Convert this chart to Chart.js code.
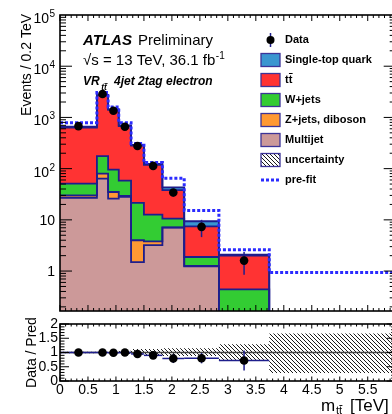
<!DOCTYPE html>
<html>
<head>
<meta charset="utf-8">
<script src="https://cdn.jsdelivr.net/npm/chart.js@4.4.0/dist/chart.umd.min.js"></script>
<style>
html, body { margin: 0; padding: 0; background: #fff; overflow: hidden; width: 392px; height: 414px; }
canvas { position: absolute; left: 0; top: 0; }
</style>
</head>
<body>
<canvas id="mainChart" width="400" height="414"></canvas>
<canvas id="ratioChart" width="400" height="414"></canvas>
<script>
// bin edges of m_tt [TeV]
const binEdges = [0, 0.66, 0.86, 1.05, 1.27, 1.5, 1.83, 2.22, 2.84, 3.74, 6.0];

// post-fit stack components (events per bin), bottom to top
const multijet     = [27, 64, 26, 28, 1.5, 3.2, 7.06, 1.24, 0.08, 0.01];
const zjetsDiboson = [3, 16, 9, 1.3, 2.5, 0.6, 0.05, 0.02, 0.01, 0.005];
const wjets        = [21, 96, 61, 29, 17.4, 8.9, 3.5, 0.62, 0.35, 0.03];
const ttbar        = [579, 2484, 1304, 617, 259, 106, 27.3, 5.6, 1.56, 0.05];
const singleTop    = [30, 90, 50, 25, 10, 5, 5, 1.9, 0.09, 0.01];
const prefit       = [790, 3050, 1600, 790, 310, 132, 65, 15.3, 2.62, 0.94];

// data
const dataVals = [677, 2870, 1350, 658, 276, 113, 34.2, 7.3, 1.6];
const dataErr  = [26, 54, 37, 26, 17, 11, 6, 2.7, 0.75];

// ratio panel
const ratioVals = [1.0, 1.0, 0.99, 1.0, 0.95, 0.9, 0.79, 0.8, 0.72];
const ratioErr  = [0.04, 0.02, 0.03, 0.04, 0.06, 0.09, 0.16, 0.18, 0.35];
const uncUp     = [0.03, 0.02, 0.03, 0.06, 0.12, 0.12, 0.15, 0.15, 0.29, 0.67];
const uncDown   = [0.03, 0.02, 0.03, 0.05, 0.08, 0.1, 0.12, 0.12, 0.29, 0.72];

// tick labels
const logTicks = [1, 10, 100, 1000, 10000, 100000];
const logTickLabels = [['1', ''], ['10', ''], ['10', '2'], ['10', '3'], ['10', '4'], ['10', '5']];
const ratioTicks = [0, 0.5, 1, 1.5, 2];
const ratioTickLabels = ['0', '0.5', '1', '1.5', '2'];
const xTicks = [0, 0.5, 1, 1.5, 2, 2.5, 3, 3.5, 4, 4.5, 5, 5.5];
const xTickLabels = ['0', '0.5', '1', '1.5', '2', '2.5', '3', '3.5', '4', '4.5', '5', '5.5'];

const FONT = "'Liberation Sans', Arial, Helvetica, sans-serif";
const OUTLINE = '#1e1e8c';
const colours = {
    singleTop: '#3a96d0',
    ttbar: '#ff3333',
    wjets: '#33cc33',
    zjets: '#ff9933',
    multijet: '#cc9999',
    prefit: '#2b2bff'
};

function stepPts(vals) {
    const pts = vals.map((v, i) => ({ x: binEdges[i], y: v }));
    pts.push({ x: binEdges[vals.length], y: vals[vals.length - 1] });
    return pts;
}
function centres(vals) {
    return vals.map((v, i) => ({ x: (binEdges[i] + binEdges[i + 1]) / 2, y: v }));
}
function makeHatch() {
    const c = document.createElement('canvas');
    c.width = 4; c.height = 4;
    const g = c.getContext('2d');
    g.strokeStyle = '#000';
    g.lineWidth = 0.9;
    g.beginPath();
    for (const k of [-4, 0, 4]) { g.moveTo(k - 1, -1); g.lineTo(k + 5, 5); }
    g.stroke();
    return g.createPattern(c, 'repeat');
}
const hatch = makeHatch();

// cumulative stack
const layers = [multijet, zjetsDiboson, wjets, ttbar, singleTop];
const layerColours = [colours.multijet, colours.zjets, colours.wjets, colours.ttbar, colours.singleTop];
const cumulative = [];
let running = multijet.map(() => 0);
layers.forEach(l => { running = running.map((r, i) => r + l[i]); cumulative.push(running.slice()); });

function line(ctx, x1, y1, x2, y2) {
    ctx.beginPath(); ctx.moveTo(x1, y1); ctx.lineTo(x2, y2); ctx.stroke();
}

function drawXTicks(chart, majLen, minLen) {
    const { ctx, chartArea: a, scales: { x } } = chart;
    for (let k = 0; k <= 60; k++) {
        const px = x.getPixelForValue(k / 10);
        const len = (k % 5 === 0) ? majLen : minLen;
        line(ctx, px, a.bottom, px, a.bottom - len);
        line(ctx, px, a.top, px, a.top + len);
    }
}

const mainFrame = {
    id: 'mainFrame',
    beforeDatasetDraw(chart, args) {
        if (args.index !== 0) return;
        const { ctx, scales: { x, y } } = chart;
        ctx.save();
        ctx.strokeStyle = OUTLINE;
        ctx.lineWidth = 1.5;
        dataVals.forEach((v, i) => {
            const px = x.getPixelForValue((binEdges[i] + binEdges[i + 1]) / 2);
            line(ctx, px, y.getPixelForValue(v + dataErr[i]), px, y.getPixelForValue(Math.max(v - dataErr[i], 0.01)));
        });
        ctx.restore();
    },
    afterDraw(chart) {
        const { ctx, chartArea: a, scales: { y } } = chart;
        ctx.save();
        ctx.strokeStyle = '#000';
        ctx.lineWidth = 1;
        drawXTicks(chart, 6, 3);
        for (let d = -1; d <= 4; d++) {
            for (let m = 1; m <= 9; m++) {
                const v = m * Math.pow(10, d);
                if (v < y.min || v > y.max) continue;
                const py = y.getPixelForValue(v);
                const len = m === 1 ? 12 : 6;
                line(ctx, a.left, py, a.left + len, py);
                line(ctx, a.right, py, a.right - len, py);
            }
        }
        ctx.lineWidth = 1.6;
        ctx.strokeRect(a.left, a.top, a.right - a.left, a.bottom - a.top);

        // y tick labels
        ctx.fillStyle = '#000';
        logTicks.forEach((v, i) => {
            const py = y.getPixelForValue(v);
            const [base, sup] = logTickLabels[i];
            if (!sup) {
                ctx.font = '14px ' + FONT;
                ctx.textAlign = 'right'; ctx.textBaseline = 'middle';
                ctx.fillText(base, 55, py + 1);
            } else {
                ctx.font = '14px ' + FONT;
                ctx.textAlign = 'right'; ctx.textBaseline = 'alphabetic';
                ctx.fillText(base, 49, py + 8);
                ctx.font = '10px ' + FONT;
                ctx.textAlign = 'left';
                ctx.fillText(sup, 49.5, py + 2);
            }
        });

        // y title
        ctx.save();
        ctx.translate(31, 14);
        ctx.rotate(-Math.PI / 2);
        ctx.font = '14px ' + FONT;
        ctx.textAlign = 'right'; ctx.textBaseline = 'alphabetic';
        ctx.fillText('Events / 0.2 TeV', 0, 0);
        ctx.restore();

        // ATLAS label
        ctx.textAlign = 'left'; ctx.textBaseline = 'alphabetic';
        ctx.font = 'italic bold 15px ' + FONT;
        ctx.fillText('ATLAS', 83, 45);
        ctx.font = '15px ' + FONT;
        ctx.fillText('Preliminary', 138, 45);
        const lumi = '\u221As = 13 TeV, 36.1 fb';
        ctx.fillText(lumi, 83, 65);
        const lw = ctx.measureText(lumi).width;
        ctx.font = '10px ' + FONT;
        ctx.fillText('-1', 83 + lw + 0.5, 59);

        ctx.font = 'italic bold 12px ' + FONT;
        ctx.fillText('VR', 83, 85);
        const vw = ctx.measureText('VR').width;
        ctx.font = 'italic bold 8.5px ' + FONT;
        ctx.fillText('tt', 83 + vw + 1.5, 90);
        const tw = ctx.measureText('t').width;
        ctx.lineWidth = 0.8;
        ctx.strokeStyle = '#000';
        line(ctx, 83 + vw + 1.5 + tw + 0.5, 83.5, 83 + vw + 1.5 + 2 * tw + 0.8, 83.5);
        ctx.font = 'italic bold 12px ' + FONT;
        ctx.fillText('4jet 2tag electron', 114, 85);

        // legend
        const items = [
            { label: 'Data', kind: 'data' },
            { label: 'Single-top quark', kind: 'box', colour: colours.singleTop },
            { label: 'tt', kind: 'box', colour: colours.ttbar, bar: true },
            { label: 'W+jets', kind: 'box', colour: colours.wjets },
            { label: 'Z+jets, diboson', kind: 'box', colour: colours.zjets },
            { label: 'Multijet', kind: 'box', colour: colours.multijet },
            { label: 'uncertainty', kind: 'box', colour: hatch },
            { label: 'pre-fit', kind: 'prefit' }
        ];
        items.forEach((it, i) => {
            const cy = 40 + 20 * i;
            if (it.kind === 'data') {
                ctx.strokeStyle = OUTLINE; ctx.lineWidth = 1.5;
                line(ctx, 270.5, cy - 7, 270.5, cy + 7);
                ctx.fillStyle = '#000';
                ctx.beginPath(); ctx.arc(270.5, cy, 4, 0, Math.PI * 2); ctx.fill();
            } else if (it.kind === 'box') {
                ctx.fillStyle = '#fff';
                ctx.fillRect(261, cy - 6.5, 19, 13);
                ctx.fillStyle = it.colour;
                ctx.fillRect(261, cy - 6.5, 19, 13);
                ctx.strokeStyle = '#3c3498'; ctx.lineWidth = 1.3;
                ctx.strokeRect(261, cy - 6.5, 19, 13);
            } else {
                ctx.strokeStyle = colours.prefit; ctx.lineWidth = 3;
                ctx.setLineDash([3, 2]);
                line(ctx, 261, cy, 281, cy);
                ctx.setLineDash([]);
            }
            ctx.fillStyle = '#000';
            ctx.font = 'bold 11px ' + FONT;
            ctx.textAlign = 'left'; ctx.textBaseline = 'middle';
            ctx.fillText(it.label, 285, cy);
            if (it.bar) {
                const t = ctx.measureText('t').width;
                ctx.strokeStyle = '#000'; ctx.lineWidth = 1;
                line(ctx, 285 + t + 0.3, cy - 6.5, 285 + 2 * t + 0.3, cy - 6.5);
            }
        });
        ctx.restore();
    }
};

const ratioFrame = {
    id: 'ratioFrame',
    beforeDatasetDraw(chart, args) {
        if (args.index !== 2) return;
        const { ctx, chartArea: a, scales: { x, y } } = chart;
        ctx.save();
        ctx.strokeStyle = '#444';
        ctx.lineWidth = 1.5;
        line(ctx, a.left, y.getPixelForValue(1), a.right, y.getPixelForValue(1));
        ctx.strokeStyle = OUTLINE;
        ctx.lineWidth = 1.5;
        ratioVals.forEach((v, i) => {
            const py = y.getPixelForValue(v);
            line(ctx, x.getPixelForValue(binEdges[i]), py, x.getPixelForValue(binEdges[i + 1]), py);
            const px = x.getPixelForValue((binEdges[i] + binEdges[i + 1]) / 2);
            line(ctx, px, y.getPixelForValue(v + ratioErr[i]), px, y.getPixelForValue(v - ratioErr[i]));
        });
        ctx.restore();
    },
    afterDraw(chart) {
        const { ctx, chartArea: a, scales: { x, y } } = chart;
        ctx.save();
        ctx.strokeStyle = '#000';
        ctx.lineWidth = 1;
        drawXTicks(chart, 4.5, 2.5);
        for (let k = 0; k <= 20; k++) {
            const py = y.getPixelForValue(k / 10);
            const len = (k % 5 === 0) ? 9 : 4.5;
            line(ctx, a.left, py, a.left + len, py);
            line(ctx, a.right, py, a.right - len, py);
        }
        ctx.lineWidth = 1.6;
        ctx.strokeRect(a.left, a.top, a.right - a.left, a.bottom - a.top);

        ctx.fillStyle = '#000';
        ctx.font = '14px ' + FONT;
        ctx.textAlign = 'right'; ctx.textBaseline = 'middle';
        ratioTicks.forEach((v, i) => ctx.fillText(ratioTickLabels[i], 58, y.getPixelForValue(v)));
        ctx.textAlign = 'center';
        xTicks.forEach((v, i) => ctx.fillText(xTickLabels[i], x.getPixelForValue(v), 390));

        // y title
        ctx.save();
        ctx.translate(36, 352.5);
        ctx.rotate(-Math.PI / 2);
        ctx.textAlign = 'center'; ctx.textBaseline = 'alphabetic';
        ctx.fillText('Data / Pred', 0, 0);
        ctx.restore();

        // x title
        ctx.textAlign = 'left'; ctx.textBaseline = 'alphabetic';
        ctx.font = '17px ' + FONT;
        ctx.fillText('m', 321, 411);
        ctx.font = '11px ' + FONT;
        ctx.fillText('tt', 336, 414);
        const t = ctx.measureText('t').width;
        ctx.lineWidth = 0.9;
        line(ctx, 336 + t + 0.3, 405.5, 336 + 2 * t + 0.3, 405.5);
        ctx.font = '17px ' + FONT;
        ctx.fillText('[TeV]', 350, 411);
        ctx.restore();
    }
};

const stackDatasets = layers.map((l, i) => ({
    label: 'layer' + i,
    data: stepPts(cumulative[i]),
    stepped: true,
    borderColor: OUTLINE,
    borderWidth: 1.8,
    backgroundColor: layerColours[i],
    fill: i === 0 ? 'start' : '-1',
    pointRadius: 0,
    order: 2 + i,
    clip: 0
}));

new Chart(document.getElementById('mainChart'), {
    type: 'line',
    data: {
        datasets: [
            {
                label: 'Data',
                data: centres(dataVals),
                showLine: false,
                pointRadius: 4.3,
                pointBackgroundColor: '#000',
                pointBorderWidth: 0,
                order: 0
            },
            {
                label: 'pre-fit',
                data: stepPts(prefit),
                stepped: true,
                borderColor: colours.prefit,
                borderWidth: 3,
                borderDash: [3, 2],
                fill: false,
                pointRadius: 0,
                order: 1,
                clip: 0
            },
            ...stackDatasets
        ]
    },
    options: {
        responsive: false,
        animation: false,
        layout: { padding: { left: 60, right: 4, top: 15, bottom: 103 } },
        scales: {
            x: { type: 'linear', min: 0, max: 6, display: false },
            y: { type: 'logarithmic', min: 0.166, max: 100000, display: false }
        },
        plugins: {
            legend: { display: false },
            tooltip: { enabled: false },
            filler: { drawTime: 'beforeDatasetsDraw' }
        }
    },
    plugins: [mainFrame]
});

new Chart(document.getElementById('ratioChart'), {
    type: 'line',
    data: {
        datasets: [
            {
                label: 'uncDown',
                data: stepPts(uncDown.map(d => 1 - d)),
                stepped: true,
                borderWidth: 0,
                pointRadius: 0,
                fill: false,
                order: 2,
                clip: 0
            },
            {
                label: 'uncertainty',
                data: stepPts(uncUp.map(u => 1 + u)),
                stepped: true,
                borderWidth: 0,
                pointRadius: 0,
                backgroundColor: hatch,
                fill: 0,
                order: 1,
                clip: 0
            },
            {
                label: 'Data / Pred',
                data: centres(ratioVals),
                showLine: false,
                pointRadius: 4.3,
                pointBackgroundColor: '#000',
                pointBorderWidth: 0,
                order: 0
            }
        ]
    },
    options: {
        responsive: false,
        animation: false,
        layout: { padding: { left: 60, right: 4, top: 324, bottom: 33 } },
        scales: {
            x: { type: 'linear', min: 0, max: 6, display: false },
            y: { type: 'linear', min: 0, max: 2, display: false }
        },
        plugins: {
            legend: { display: false },
            tooltip: { enabled: false }
        }
    },
    plugins: [ratioFrame]
});
</script>
</body>
</html>
